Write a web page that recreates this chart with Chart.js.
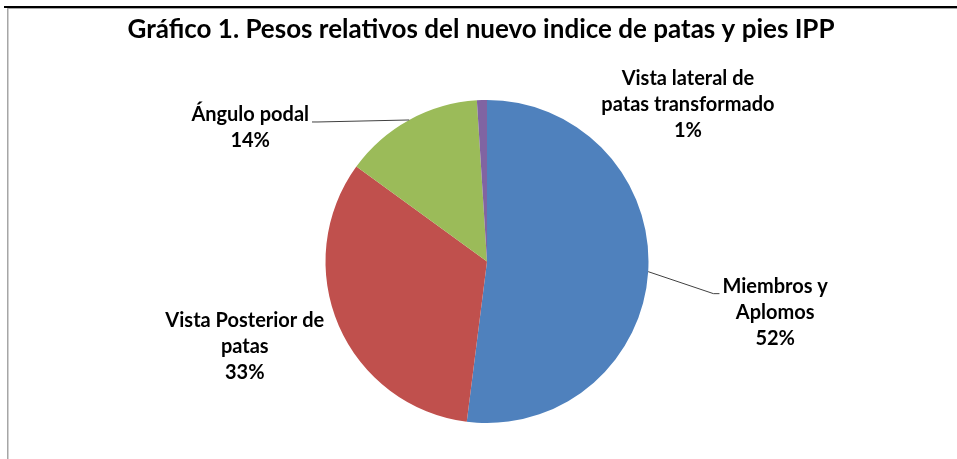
<!DOCTYPE html>
<html>
<head>
<meta charset="utf-8">
<script src="https://cdn.jsdelivr.net/npm/chart.js@4.4.1/dist/chart.umd.min.js"></script>
<style>
    html, body { margin: 0; padding: 0; background: #ffffff; }
    #grafico { display: block; }
</style>
</head>
<body>
<canvas id="grafico" width="957" height="459"></canvas>
<script>
const titulo = 'Gráfico 1. Pesos relativos del nuevo indice de patas y pies IPP';

const categorias = [
    'Miembros y Aplomos',
    'Vista Posterior de patas',
    'Ángulo podal',
    'Vista lateral de patas transformado'
];

// cortes de linea de cada etiqueta, como en el original
const lineasEtiqueta = [
    ['Miembros y', 'Aplomos'],
    ['Vista Posterior de', 'patas'],
    ['Ángulo podal'],
    ['Vista lateral de', 'patas transformado']
];

const valores = [52, 33, 14, 1];

const colores = ['#4F81BD', '#C0504D', '#9BBB59', '#8064A2'];

// desplazamiento del centro de la etiqueta respecto al borde del sector
const ubicacionEtiquetas = [
    { dx: 127, dy: 41, guia: true },
    { dx: -94, dy: 21, guia: false },
    { dx: -159, dy: 8, guia: true },
    { dx: 206, dy: 4, guia: false }
];

const fuente = 'Lato, "Open Sans", "DejaVu Sans", sans-serif';

const marcoYTitulo = {
    id: 'marcoYTitulo',
    afterDraw(chart) {
        const ctx = chart.ctx;
        ctx.save();
        // marco
        ctx.fillStyle = '#000000';
        ctx.fillRect(4, 6, 953, 2);
        ctx.fillStyle = '#a6a6a6';
        ctx.fillRect(7, 8, 950, 1);
        ctx.fillRect(7, 8, 1.5, 451);
        // titulo
        ctx.fillStyle = '#000000';
        ctx.font = 'bold 26px ' + fuente;
        ctx.textAlign = 'center';
        ctx.textBaseline = 'alphabetic';
        ctx.fillText(titulo, 481, 38);
        ctx.restore();
    }
};

const etiquetasSectores = {
    id: 'etiquetasSectores',
    afterDatasetsDraw(chart) {
        const ctx = chart.ctx;
        const meta = chart.getDatasetMeta(0);
        const altoLinea = 26;
        ctx.save();
        ctx.font = 'bold 20px ' + fuente;
        ctx.fillStyle = '#000000';
        ctx.textAlign = 'center';
        ctx.textBaseline = 'middle';

        meta.data.forEach((arco, i) => {
            const p = arco.getProps(['x', 'y', 'startAngle', 'endAngle', 'outerRadius'], true);
            const medio = (p.startAngle + p.endAngle) / 2;
            const bx = p.x + Math.cos(medio) * p.outerRadius;
            const by = p.y + Math.sin(medio) * p.outerRadius;
            const u = ubicacionEtiquetas[i];
            const lineas = lineasEtiqueta[i].concat([valores[i] + '%']);
            const cx = bx + u.dx;
            const cy = by + u.dy;
            const y0 = cy - (lineas.length - 1) * altoLinea / 2;

            lineas.forEach((txt, k) => {
                ctx.fillText(txt, cx, y0 + k * altoLinea);
            });

            if (u.guia) {
                const w1 = ctx.measureText(lineas[0]).width;
                const lado = u.dx > 0 ? -1 : 1;
                const ex = cx + lado * (w1 / 2 + 3);
                const ey = y0 + 7;
                ctx.beginPath();
                ctx.strokeStyle = '#404040';
                ctx.lineWidth = 1;
                ctx.moveTo(bx, by);
                ctx.lineTo(ex + lado * 6, ey);
                ctx.lineTo(ex, ey);
                ctx.stroke();
            }
        });
        ctx.restore();
    }
};

const config = {
    type: 'pie',
    data: {
        labels: categorias,
        datasets: [{
            data: valores,
            backgroundColor: colores,
            borderWidth: 0
        }]
    },
    options: {
        responsive: false,
        animation: false,
        layout: {
            padding: { left: 325.5, right: 308.5, top: 100, bottom: 36 }
        },
        plugins: {
            legend: { display: false },
            title: { display: false },
            tooltip: { enabled: false }
        }
    },
    plugins: [marcoYTitulo, etiquetasSectores]
};

const grafico = new Chart(document.getElementById('grafico'), config);
</script>
</body>
</html>
